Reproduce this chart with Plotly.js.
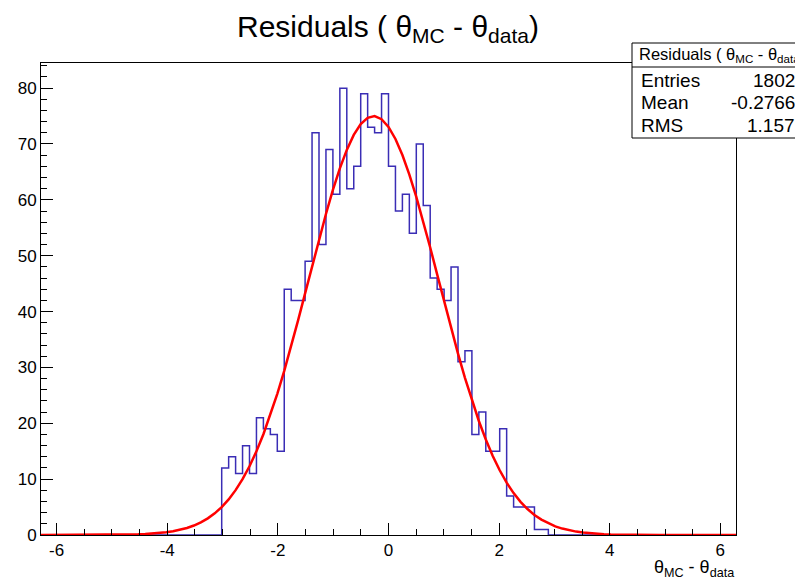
<!DOCTYPE html>
<html>
<head>
<meta charset="utf-8">
<script src="https://cdn.plot.ly/plotly-3.0.1.min.js"></script>
<style>html,body{margin:0;padding:0;background:#fff;} #chart{width:795px;height:580px;}</style>
</head>
<body>
<div id="chart"></div>
<script>
// ---- data ----
const histLow = -2 * Math.PI;
const histHigh = 2 * Math.PI;
const nBins = 100;
const firstFilledBin = 26;
const binCounts = [12,14,11,16,11,21,19,18,15,44,42,42,49,72,52,69,61,80,62,66,79,73,72,79,66,58,61,54,70,59,46,44,42,48,31,33,18,22,15,15,19,7,5,5,5,1,1];
const fitConstant = 75.0;
const fitMean = -0.27;
const fitSigma = 1.18;
const statLabels = ["Entries", "Mean", "RMS"];
const statValues = ["1802", "-0.2766", "1.157"];
const xTickVals = [-6, -4, -2, 0, 2, 4, 6];
const yTickVals = [0, 10, 20, 30, 40, 50, 60, 70, 80];

// ---- build histogram outline ----
const binWidth = (histHigh - histLow) / nBins;
const counts = new Array(nBins).fill(0);
binCounts.forEach((v, i) => { counts[firstFilledBin + i] = v; });
const hx = [], hy = [];
for (let i = 0; i < nBins; i++) { hx.push(histLow + i * binWidth); hy.push(counts[i]); }
hx.push(histHigh); hy.push(counts[nBins - 1]);

// ---- fit function (ROOT draws with 100 points) ----
const fx = [], fy = [];
const npx = 100;
for (let i = 0; i <= npx; i++) {
  const x = histLow + i * (histHigh - histLow) / npx;
  fx.push(x);
  fy.push(fitConstant * Math.exp(-0.5 * Math.pow((x - fitMean) / fitSigma, 2)));
}

// ---- layout geometry (pixels) ----
const W = 795, H = 580;
const L = 41, R = 736, T = 63, B = 535;
const px = x => (x - L) / (R - L);
const py = y => (B - y) / (B - T);
const FONT = "Liberation Sans, Arial, Helvetica, sans-serif";

const traces = [
  { x: hx, y: hy, type: 'scatter', mode: 'lines', line: { shape: 'hv', color: '#3a2db5', width: 1.5 }, hoverinfo: 'skip' },
  { x: fx, y: fy, type: 'scatter', mode: 'lines', line: { color: '#ff0000', width: 2.5 }, hoverinfo: 'skip' }
];

const annotations = [
  { xref: 'paper', yref: 'paper', x: px(736), y: py(568), xanchor: 'right', yanchor: 'middle',
    text: 'θ<sub>MC</sub> - θ<sub>data</sub>', showarrow: false, font: { family: FONT, size: 18, color: '#000' } },
  { xref: 'paper', yref: 'paper', x: px(637), y: py(55), xanchor: 'left', yanchor: 'middle',
    text: 'Residuals ( θ<sub>MC</sub> - θ<sub>data</sub>)', showarrow: false, font: { family: FONT, size: 16.5, color: '#000' } }
];
const rowY = [80, 102.5, 125];
statLabels.forEach((lab, i) => {
  annotations.push({ xref: 'paper', yref: 'paper', x: px(639), y: py(rowY[i]), xanchor: 'left', yanchor: 'middle',
    text: lab, showarrow: false, font: { family: FONT, size: 19, color: '#000' } });
  annotations.push({ xref: 'paper', yref: 'paper', x: px(797), y: py(rowY[i]), xanchor: 'right', yanchor: 'middle',
    text: statValues[i], showarrow: false, font: { family: FONT, size: 19, color: '#000' } });
});

const shapes = [
  { type: 'rect', xref: 'paper', yref: 'paper', x0: px(632), x1: px(805), y0: py(138), y1: py(43),
    line: { color: '#000', width: 1 }, fillcolor: '#fff', layer: 'above' },
  { type: 'line', xref: 'paper', yref: 'paper', x0: px(632), x1: px(805), y0: py(67), y1: py(67),
    line: { color: '#000', width: 1 }, layer: 'above' }
];

const layout = {
  width: W, height: H,
  margin: { l: L, r: W - R, t: T, b: H - B, pad: 0 },
  paper_bgcolor: '#fff', plot_bgcolor: '#fff',
  showlegend: false,
  title: { text: 'Residuals ( θ<sub>MC</sub> - θ<sub>data</sub>)', x: 388 / W, xanchor: 'center',
    y: 1 - 26 / H, yanchor: 'middle', yref: 'container', font: { family: FONT, size: 30, color: '#000' } },
  xaxis: {
    range: [histLow, histHigh], tickvals: xTickVals, ticktext: xTickVals.map(String),
    ticks: 'inside', ticklen: 12, tickwidth: 1, tickcolor: '#000',
    minor: { dtick: 0.5, tick0: 0, ticks: 'inside', ticklen: 6, tickwidth: 1, tickcolor: '#000' },
    showline: true, mirror: true, linecolor: '#000', linewidth: 1,
    showgrid: false, zeroline: false, tickfont: { family: FONT, size: 17, color: '#000' }
  },
  yaxis: {
    range: [0, 84.5], tickvals: yTickVals,
    ticks: 'inside', ticklen: 12, tickwidth: 1, tickcolor: '#000',
    minor: { dtick: 2, tick0: 0, ticks: 'inside', ticklen: 6, tickwidth: 1, tickcolor: '#000' },
    showline: true, mirror: true, linecolor: '#000', linewidth: 1,
    showgrid: false, zeroline: false, tickfont: { family: FONT, size: 17, color: '#000' }
  },
  annotations: annotations,
  shapes: shapes
};

Plotly.newPlot('chart', traces, layout, { staticPlot: true, displayModeBar: false });
</script>
</body>
</html>
